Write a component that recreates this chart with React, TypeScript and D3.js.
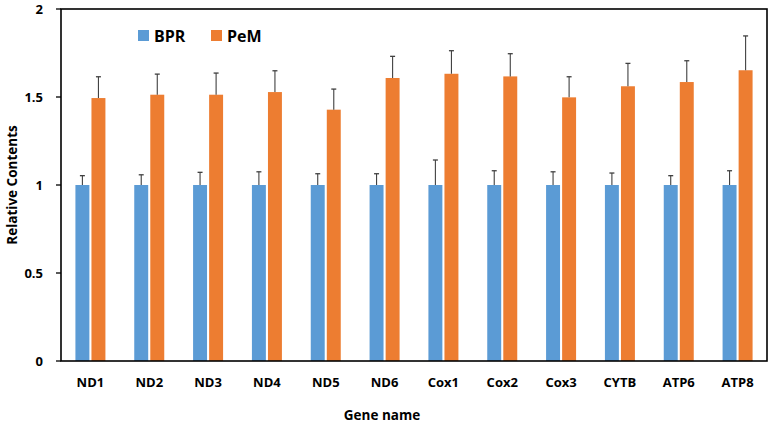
import { useEffect, useRef } from "react";
import * as d3 from "d3";

const genes = ["ND1", "ND2", "ND3", "ND4", "ND5", "ND6", "Cox1", "Cox2", "Cox3", "CYTB", "ATP6", "ATP8"];
const bprValues = [1, 1, 1, 1, 1, 1, 1, 1, 1, 1, 1, 1];
const bprErrors = [0.053, 0.058, 0.072, 0.075, 0.064, 0.064, 0.142, 0.081, 0.075, 0.068, 0.053, 0.081];
const pemValues = [1.494, 1.513, 1.513, 1.528, 1.428, 1.608, 1.632, 1.617, 1.498, 1.561, 1.585, 1.652];
const pemErrors = [0.121, 0.117, 0.123, 0.121, 0.117, 0.123, 0.131, 0.129, 0.117, 0.13, 0.121, 0.195];
const yTicks = [0, 0.5, 1, 1.5, 2];

const series = [
  { name: "BPR", color: "#5B9BD5", values: bprValues, errors: bprErrors },
  { name: "PeM", color: "#ED7D31", values: pemValues, errors: pemErrors },
];

const width = 773;
const height = 424;
const margin = { top: 9, right: 6, bottom: 63, left: 61 };
const font = "'Open Sans', Calibri, sans-serif";

export default function App() {
  const svgRef = useRef<SVGSVGElement | null>(null);

  useEffect(() => {
    if (!svgRef.current) return;
    const svg = d3.select(svgRef.current);
    svg.selectAll("*").remove(); // clear previous

    const x0 = d3.scaleBand().domain(genes).range([margin.left, width - margin.right]);
    const x1 = d3.scaleBand().domain(series.map(s => s.name)).range([0, 30]).paddingInner(0.13);
    const y = d3.scaleLinear().domain([0, 2]).range([height - margin.bottom, margin.top]);
    const bw = x1.bandwidth();
    const off = (x0.bandwidth() - 30) / 2;

    // bars + error bars
    series.forEach(s => {
      const g = svg.append("g");
      g.selectAll("rect")
        .data(genes)
        .enter()
        .append("rect")
        .attr("x", d => (x0(d) as number) + off + (x1(s.name) as number))
        .attr("y", (_, i) => y(s.values[i]))
        .attr("width", bw)
        .attr("height", (_, i) => y(0) - y(s.values[i]))
        .attr("fill", s.color);

      genes.forEach((d, i) => {
        const cx = (x0(d) as number) + off + (x1(s.name) as number) + bw / 2;
        const top = y(s.values[i] + s.errors[i]);
        g.append("line")
          .attr("x1", cx).attr("x2", cx)
          .attr("y1", y(s.values[i])).attr("y2", top)
          .attr("stroke", "#404040").attr("stroke-width", 1.1);
        g.append("line")
          .attr("x1", cx - 2.5).attr("x2", cx + 2.5)
          .attr("y1", top).attr("y2", top)
          .attr("stroke", "#404040").attr("stroke-width", 1.3);
      });
    });

    // frame
    svg.append("rect")
      .attr("x", margin.left)
      .attr("y", margin.top)
      .attr("width", width - margin.left - margin.right)
      .attr("height", height - margin.top - margin.bottom)
      .attr("fill", "none")
      .attr("stroke", "#000")
      .attr("stroke-width", 1.6);

    // y axis ticks + labels
    const yg = svg.append("g");
    yTicks.forEach(t => {
      yg.append("line")
        .attr("x1", margin.left - 5).attr("x2", margin.left)
        .attr("y1", y(t)).attr("y2", y(t))
        .attr("stroke", "#000").attr("stroke-width", 1.3);
      yg.append("text")
        .attr("x", margin.left - 18)
        .attr("y", y(t))
        .attr("dy", "0.35em")
        .attr("text-anchor", "end")
        .style("font-family", font)
        .style("font-size", "13px")
        .style("font-weight", "bold")
        .attr("fill", "#000")
        .text(String(t));
    });

    // x labels
    svg.append("g")
      .selectAll("text")
      .data(genes)
      .enter()
      .append("text")
      .attr("x", d => (x0(d) as number) + x0.bandwidth() / 2)
      .attr("y", 382)
      .attr("dy", "0.35em")
      .attr("text-anchor", "middle")
      .style("font-family", font)
      .style("font-size", "13px")
      .style("font-weight", "bold")
      .attr("fill", "#000")
      .text(d => d);

    // axis titles
    svg.append("text")
      .attr("x", 382)
      .attr("y", 415)
      .attr("dy", "0.35em")
      .attr("text-anchor", "middle")
      .style("font-family", font)
      .style("font-size", "13.5px")
      .style("font-weight", "bold")
      .text("Gene name");

    svg.append("text")
      .attr("transform", `translate(12,${y(1)}) rotate(-90)`)
      .attr("dy", "0.35em")
      .attr("text-anchor", "middle")
      .style("font-family", font)
      .style("font-size", "13.5px")
      .style("font-weight", "bold")
      .text("Relative Contents");

    // legend
    const legendX = [138, 211];
    series.forEach((s, i) => {
      svg.append("rect")
        .attr("x", legendX[i]).attr("y", 30)
        .attr("width", 11).attr("height", 11)
        .attr("fill", s.color);
      svg.append("text")
        .attr("x", legendX[i] + 16)
        .attr("y", 36)
        .attr("dy", "0.35em")
        .style("font-family", font)
        .style("font-size", "16px")
        .style("font-weight", "bold")
        .attr("fill", "#000")
        .text(s.name);
    });
  }, []);

  return (
    <svg
      ref={svgRef}
      width={width}
      height={height}
      style={{ position: "absolute", left: 0, top: 0, background: "#fff" }}
    />
  );
}
